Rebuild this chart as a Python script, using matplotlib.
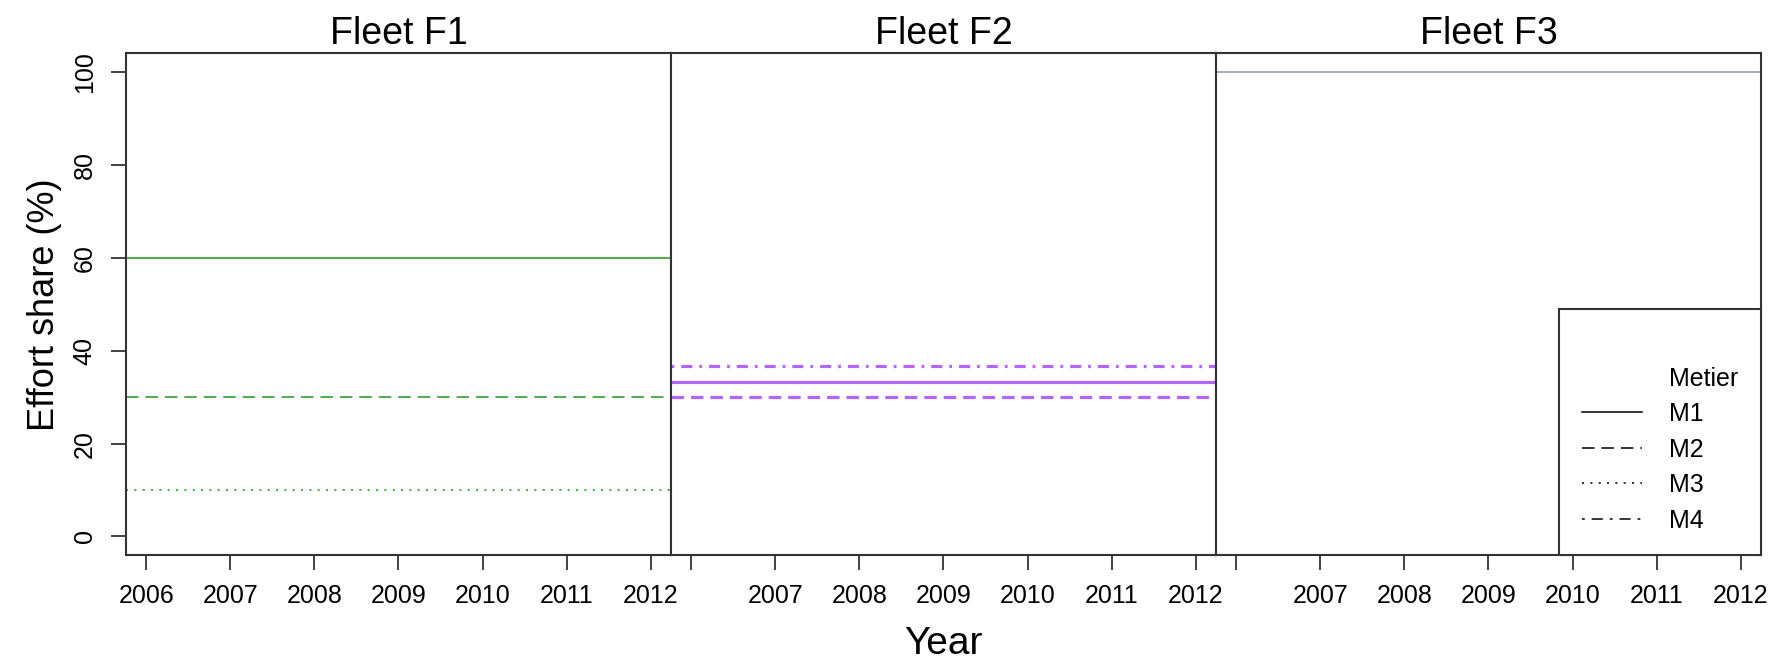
import matplotlib
matplotlib.use("Agg")
import matplotlib.pyplot as plt
from matplotlib.lines import Line2D

plt.rcParams['font.family'] = ['Liberation Sans', 'DejaVu Sans']
plt.rcParams['lines.scale_dashes'] = False

# data
years = [2006, 2007, 2008, 2009, 2010, 2011, 2012]
fleets = ["F1", "F2", "F3"]
metiers = ["M1", "M2", "M3", "M4"]
share_f1 = {"M1": 60.0, "M2": 30.0, "M3": 10.0}
share_f2 = {"M1": 33.3, "M2": 30.0, "M4": 36.7}
share_f3 = {"M1": 100.0}
fleet_shares = [share_f1, share_f2, share_f3]
fleet_colors = ["#4DAF4A", "#B266FF", "#8896AB"]
fleet_lw = [1.4, 2.3, 1.1]

styles = {
    "M1": "-",
    "M2": (0, (9, 5)),
    "M3": (0, (1.5, 4.5)),
    "M4": (0, (2, 5, 8, 5)),
}

fig = plt.figure(figsize=(17.84, 6.58), dpi=100)
left, bottom, width, height = 0.0706, 0.1565, 0.3055, 0.7622
edge = "#333333"

axes = []
for i, fl in enumerate(fleets):
    ax = fig.add_axes([left + i * width, bottom, width, height])
    axes.append(ax)
    # constant share over all years: span the whole panel
    for m, v in fleet_shares[i].items():
        ax.axhline(v, color=fleet_colors[i], lw=fleet_lw[i],
                   linestyle=styles[m])
    ax.set_xlim(2005.76, 2012.24)
    ax.set_ylim(-4, 104)
    ax.set_title("Fleet " + fl, fontsize=27, pad=7)
    ax.set_xticks(years)
    if i == 0:
        ax.set_xticklabels([str(y) for y in years])
        ax.set_yticks([0, 20, 40, 60, 80, 100])
        ax.set_yticklabels(["0", "20", "40", "60", "80", "100"],
                           rotation=90, va="center")
    else:
        ax.set_xticklabels([""] + [str(y) for y in years[1:]])
        ax.set_yticks([])
    ax.tick_params(axis="both", labelsize=18, length=11, width=1.3,
                   color=edge, pad=10)
    for s in ax.spines.values():
        s.set_color(edge)
        s.set_linewidth(1.5)

axes[0].set_ylabel("Effort share (%)", fontsize=26, labelpad=8)
fig.text(left + 1.5 * width, 0.022, "Year", fontsize=28,
         ha="center", va="center")

# legend
handles = [Line2D([], [], visible=False), Line2D([], [], visible=False)]
labels = ["", "Metier"]
for m in metiers:
    handles.append(Line2D([], [], color="black", lw=1.1, linestyle=styles[m]))
    labels.append(m)
leg = axes[2].legend(handles, labels, loc="lower right", fontsize=18,
                     frameon=True, fancybox=False, borderaxespad=0,
                     handlelength=2.4, handletextpad=1.1, labelspacing=0.46,
                     borderpad=0.9)
leg.get_frame().set_edgecolor(edge)
leg.get_frame().set_linewidth(1.5)
leg.get_frame().set_alpha(1)

fig.savefig("out.png", dpi=100)
